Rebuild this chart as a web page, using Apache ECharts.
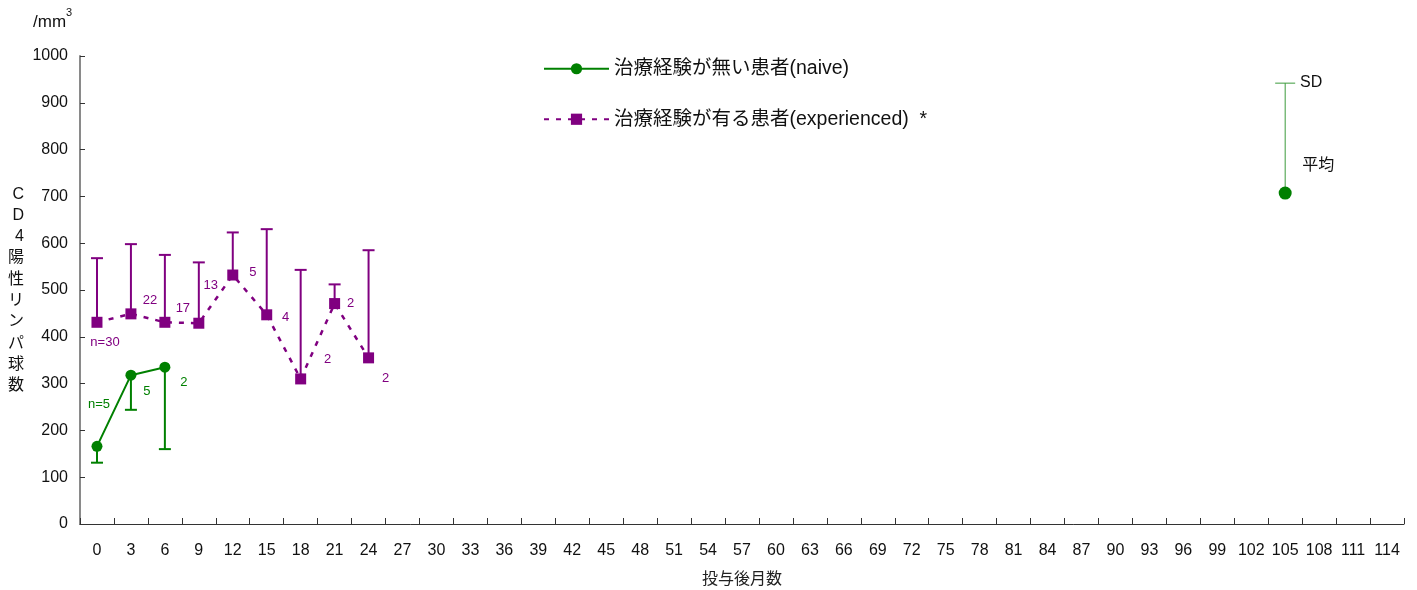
<!DOCTYPE html>
<html>
<head>
<meta charset="utf-8">
<script src="https://cdn.jsdelivr.net/npm/echarts@6/dist/echarts.min.js"></script>
<style>
  html, body { margin: 0; padding: 0; background: #fff; }
  #chart { width: 1417px; height: 590px; }
</style>
</head>
<body>
<div id="chart"></div>
<script>
// Months after dosing (x-axis categories)
const months = [0,3,6,9,12,15,18,21,24,27,30,33,36,39,42,45,48,51,54,57,60,63,66,69,72,75,78,81,84,87,90,93,96,99,102,105,108,111,114];

// Treatment-naive patients: mean CD4 count, lower SD bound, patient counts
const naiveMonths = [0, 3, 6];
const naiveMean = [166, 318, 335];
const naiveSdLow = [131, 244, 160];
const naiveN = ['n=5', '5', '2'];

// Treatment-experienced patients: mean CD4 count, upper SD bound, patient counts
const expMonths = [0, 3, 6, 9, 12, 15, 18, 21, 24];
const expMean = [431, 449, 431, 429, 532, 447, 310, 471, 355];
const expSdHigh = [568, 598, 575, 559, 623, 630, 543, 512, 585];
const expN = ['n=30', '22', '17', '13', '5', '4', '2', '2', '2'];

// Key showing how mean and SD are drawn
const keyMonth = [105];
const keyMean = [707];
const keySd = [942];

const GREEN = '#008000';
const PURPLE = '#800080';
const FONT = '"Liberation Sans", "Noto Sans CJK JP", sans-serif';

const idx = m => months.indexOf(m);

// label offsets for the patient-count annotations
const naiveOffsets = [[2, -42], [16, 16], [19, 15]];
const expOffsets = [[8, 20], [19, -13], [18, -14], [12, -38], [20, -3], [19, 3], [27, -19], [16, 0], [17, 21]];

function errorBar(color, width, halfCap) {
  return function (params, api) {
    const x = api.value(0);
    const p0 = api.coord([x, api.value(1)]);
    const p1 = api.coord([x, api.value(2)]);
    const style = { stroke: color, lineWidth: width };
    return {
      type: 'group',
      children: [
        { type: 'line', shape: { x1: p0[0], y1: p0[1], x2: p1[0], y2: p1[1] }, style: style },
        { type: 'line', shape: { x1: p1[0] - halfCap, y1: p1[1], x2: p1[0] + halfCap, y2: p1[1] }, style: style }
      ]
    };
  };
}

function countLabels(ms, means, texts, offsets, color) {
  return ms.map((m, i) => ({
    value: [idx(m), means[i]],
    label: {
      show: true, position: 'inside', formatter: texts[i], offset: offsets[i],
      color: color, fontSize: 13, fontFamily: FONT
    }
  }));
}

const chart = echarts.init(document.getElementById('chart'));

chart.setOption({
  animation: false,
  backgroundColor: '#ffffff',
  grid: { left: 80, right: 13, top: 56, bottom: 66, containLabel: false, outerBoundsMode: 'none' },
  legend: {
    data: ['治療経験が無い患者(naive)', '治療経験が有る患者(experienced)  *'],
    orient: 'vertical',
    left: 538,
    top: 54,
    itemWidth: 65,
    itemHeight: 14,
    itemGap: 31,
    textStyle: { fontSize: 19.5, color: '#111', fontFamily: FONT }
  },
  graphic: [
    {
      type: 'text', left: 33, top: 7,
      style: {
        text: '{a|/mm}{s|3}',
        rich: {
          a: { fontSize: 17, fontFamily: FONT, fill: '#111', verticalAlign: 'bottom', lineHeight: 24 },
          s: { fontSize: 11, fontFamily: FONT, fill: '#111', verticalAlign: 'top', lineHeight: 24, padding: [0, 0, 12, 0] }
        }
      }
    }
  ],
  xAxis: {
    type: 'category',
    data: months.map(String),
    boundaryGap: true,
    name: '投与後月数',
    nameLocation: 'middle',
    nameGap: 48,
    nameTextStyle: { fontSize: 16, color: '#222', fontFamily: FONT },
    axisLine: { lineStyle: { color: '#333', width: 1 } },
    axisTick: { show: true, inside: true, length: 6, alignWithLabel: false, lineStyle: { color: '#333' } },
    axisLabel: { fontSize: 16, color: '#111', margin: 19, interval: 0, fontFamily: FONT },
    splitLine: { show: false }
  },
  yAxis: {
    type: 'value',
    min: 0, max: 1000, interval: 100,
    name: 'C\nD\n4\n陽\n性\nリ\nン\nパ\n球\n数',
    nameLocation: 'middle',
    nameRotate: 0,
    nameGap: 56,
    nameTextStyle: { fontSize: 16, color: '#111', lineHeight: 21.3, fontFamily: FONT },
    axisLine: { show: true, lineStyle: { color: '#8a8a8a', width: 2 } },
    axisTick: { show: true, inside: true, length: 5, lineStyle: { color: '#333' } },
    axisLabel: { fontSize: 16, color: '#111', margin: 12, fontFamily: FONT, formatter: v => String(v) },
    splitLine: { show: false }
  },
  series: [
    {
      name: 'naive-sd', type: 'custom', z: 3,
      renderItem: errorBar(GREEN, 2, 6),
      encode: { x: 0, y: [1, 2] },
      data: naiveMonths.map((m, i) => [idx(m), naiveMean[i], naiveSdLow[i]])
    },
    {
      name: 'experienced-sd', type: 'custom', z: 3,
      renderItem: errorBar(PURPLE, 2, 6),
      encode: { x: 0, y: [1, 2] },
      data: expMonths.map((m, i) => [idx(m), expMean[i], expSdHigh[i]])
    },
    {
      name: '治療経験が無い患者(naive)', type: 'line', z: 4,
      symbol: 'circle', symbolSize: 11,
      color: GREEN,
      lineStyle: { color: GREEN, width: 2 },
      itemStyle: { color: GREEN },
      data: naiveMonths.map((m, i) => [idx(m), naiveMean[i]])
    },
    {
      name: '治療経験が有る患者(experienced)  *', type: 'line', z: 4,
      symbol: 'rect', symbolSize: 11,
      color: PURPLE,
      lineStyle: { color: PURPLE, width: 2.5, type: [5, 7] },
      itemStyle: { color: PURPLE },
      data: expMonths.map((m, i) => [idx(m), expMean[i]])
    },
    {
      name: 'naive-n', type: 'scatter', symbolSize: 0, z: 5, silent: true,
      itemStyle: { opacity: 1 },
      data: countLabels(naiveMonths, naiveMean, naiveN, naiveOffsets, GREEN)
    },
    {
      name: 'experienced-n', type: 'scatter', symbolSize: 0, z: 5, silent: true,
      itemStyle: { opacity: 1 },
      data: countLabels(expMonths, expMean, expN, expOffsets, PURPLE)
    },
    {
      name: 'key-sd', type: 'custom', z: 3,
      renderItem: errorBar('#3c9a3c', 1, 10),
      encode: { x: 0, y: [1, 2] },
      data: keyMonth.map((m, i) => [idx(m), keyMean[i], keySd[i]])
    },
    {
      name: 'key-mean', type: 'scatter', z: 4,
      symbol: 'circle', symbolSize: 13,
      itemStyle: { color: GREEN, opacity: 1 },
      data: keyMonth.map((m, i) => ({
        value: [idx(m), keyMean[i]],
        label: {
          show: true, position: 'inside', formatter: '平均', offset: [33, -28],
          color: '#111', fontSize: 16, fontFamily: FONT
        }
      }))
    },
    {
      name: 'key-sd-text', type: 'scatter', symbolSize: 0, z: 5, silent: true,
      itemStyle: { opacity: 1 },
      data: keyMonth.map((m, i) => ({
        value: [idx(m), keySd[i]],
        label: {
          show: true, position: 'inside', formatter: 'SD', offset: [26, -1],
          color: '#111', fontSize: 16, fontFamily: FONT
        }
      }))
    }
  ]
});
</script>
</body>
</html>
